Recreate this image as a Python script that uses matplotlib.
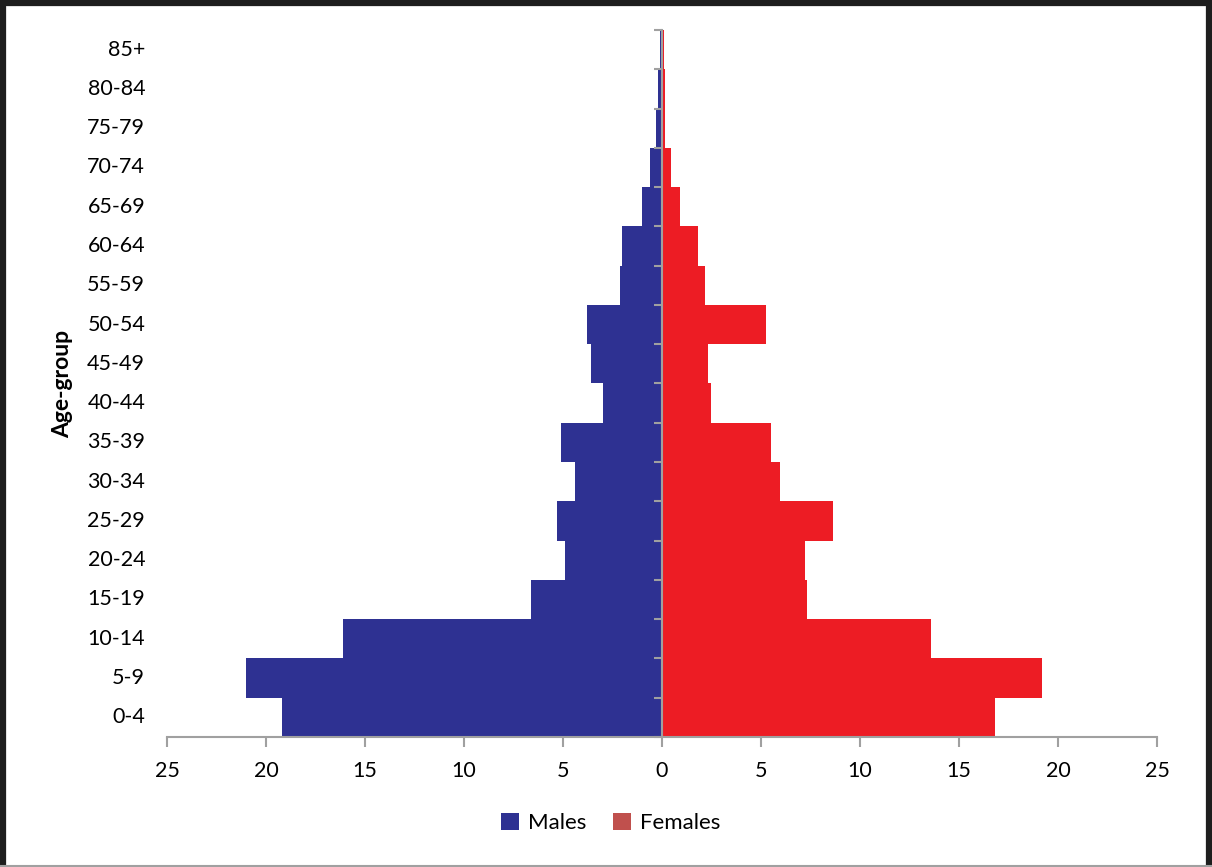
import numpy as np
import matplotlib.pyplot as plt
from matplotlib.patches import Patch, Rectangle

# Age groups, bottom to top
age_groups = ['0-4', '5-9', '10-14', '15-19', '20-24', '25-29', '30-34', '35-39',
              '40-44', '45-49', '50-54', '55-59', '60-64', '65-69', '70-74',
              '75-79', '80-84', '85+']
males = [19.2, 21.0, 16.1, 6.6, 4.9, 5.3, 4.4, 5.1, 3.0, 3.6, 3.8, 2.1, 2.0,
         1.0, 0.6, 0.3, 0.2, 0.1]
females = [16.8, 19.2, 13.6, 7.3, 7.2, 8.65, 5.95, 5.5, 2.5, 2.3, 5.25, 2.15,
           1.8, 0.9, 0.45, 0.15, 0.15, 0.12]
x_ticks = [-25, -20, -15, -10, -5, 0, 5, 10, 15, 20, 25]

male_color = '#2E3192'
female_color = '#ED1C24'
female_legend_color = '#C0504D'
axis_color = '#A0A0A0'

plt.rcParams['font.family'] = ['Lato', 'DejaVu Sans']

fig = plt.figure(figsize=(12.12, 8.67), dpi=100)
ax = fig.add_axes([0.1378, 0.15, 0.8168, 0.8154])

y = np.arange(len(age_groups))
ax.barh(y, -np.array(males), height=1.0, color=male_color, linewidth=0)
ax.barh(y, females, height=1.0, color=female_color, linewidth=0)

ax.set_xlim(-25, 25)
ax.set_ylim(-0.5, len(age_groups) - 0.5)

# x axis
ax.set_xticks(x_ticks)
ax.set_xticklabels([str(abs(v)) for v in x_ticks], fontsize=15.5)
ax.tick_params(axis='x', direction='out', length=7, width=1.5, color=axis_color, pad=10)

# central axis with ticks at group boundaries
for s in ['top', 'right']:
    ax.spines[s].set_visible(False)
ax.spines['left'].set_position(('data', 0))
ax.spines['left'].set_color(axis_color)
ax.spines['left'].set_linewidth(1.5)
ax.spines['bottom'].set_color(axis_color)
ax.spines['bottom'].set_linewidth(1.5)
ax.set_yticks(np.arange(len(age_groups) + 1) - 0.5)
ax.set_yticklabels([])
ax.tick_params(axis='y', direction='out', length=6, width=1.5, color=axis_color)

# group labels at the far left
for yi, lab in zip(y, age_groups):
    ax.text(-0.022, yi, lab, transform=ax.get_yaxis_transform(),
            ha='right', va='center', fontsize=15.5)

fig.text(0.052, 0.557, 'Age-group', rotation=90, ha='center', va='center',
         fontsize=16.5, fontweight='bold')

handles = [Patch(facecolor=male_color, label='Males'),
           Patch(facecolor=female_legend_color, label='Females')]
fig.legend(handles=handles, loc='center', bbox_to_anchor=(0.504, 0.051), ncol=2,
           frameon=False, fontsize=16, handlelength=0.8, handleheight=0.8,
           handletextpad=0.4, columnspacing=1.2)

# outer frame
fig.patches.append(Rectangle((0.0025, -0.01), 0.995, 1.0065, transform=fig.transFigure,
                             fill=False, edgecolor='#1E1E1E', linewidth=4.5))
fig.lines.append(plt.Line2D([0, 1], [0.0015, 0.0015], transform=fig.transFigure,
                            color=axis_color, linewidth=1.5))

fig.savefig('out.png', dpi=100)
